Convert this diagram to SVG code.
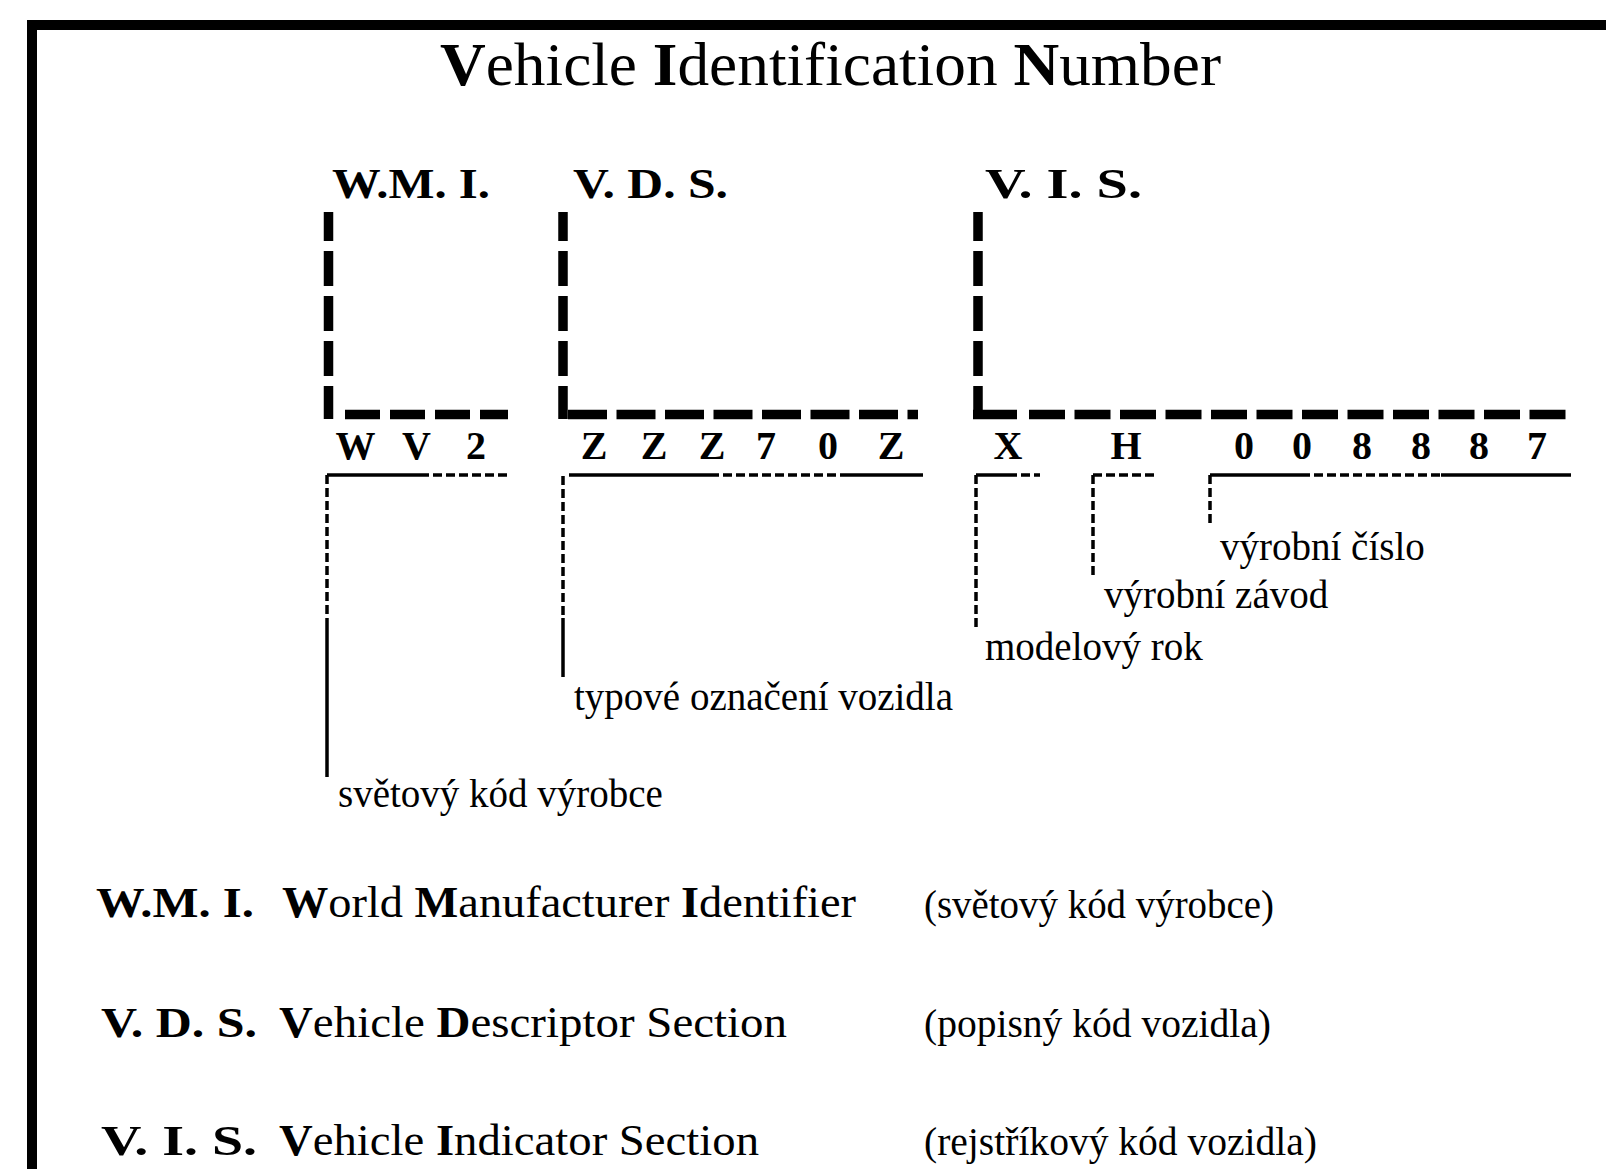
<svg xmlns="http://www.w3.org/2000/svg" width="1606" height="1169" viewBox="0 0 1606 1169">
<style>
text{font-family:"Liberation Serif","Times New Roman",serif;fill:#000}
.b{font-weight:bold}
.title{font-size:61px}
.hdr{font-size:42px;font-weight:bold}
.ch{font-size:40px;font-weight:bold;text-anchor:middle}
.lbl{font-size:39px}
.leg{font-size:44px}
.legk{font-size:42px;font-weight:bold}
.thick{stroke:#000;stroke-width:9.5;fill:none}
.thin{stroke:#000;stroke-width:3.5;fill:none}
.td{stroke-dasharray:9 4}
</style>
<rect x="32" y="25" width="1620" height="1200" fill="none" stroke="#000" stroke-width="10"/>
<g id="title"><text class="title" x="440" y="85" textLength="781" lengthAdjust="spacingAndGlyphs"><tspan class="b">V</tspan>ehicle <tspan class="b">I</tspan>dentification <tspan class="b">N</tspan>umber</text></g>
<g id="wmi">
<text class="hdr" x="332" y="198" textLength="158" lengthAdjust="spacingAndGlyphs">W.M. I.</text>
<text class="ch" x="355.5" y="459">W</text><text class="ch" x="416.5" y="459">V</text><text class="ch" x="476" y="459">2</text>
</g>
<g id="vds">
<text class="hdr" x="573" y="198" textLength="155" lengthAdjust="spacingAndGlyphs">V. D. S.</text>
<text class="ch" x="594" y="459">Z</text><text class="ch" x="654" y="459">Z</text><text class="ch" x="712" y="459">Z</text><text class="ch" x="766" y="459">7</text><text class="ch" x="828" y="459">0</text><text class="ch" x="891" y="459">Z</text>
</g>
<g id="vis">
<text class="hdr" x="985" y="198" textLength="157" lengthAdjust="spacingAndGlyphs">V. I. S.</text>
<text class="ch" x="1008" y="459">X</text><text class="ch" x="1126" y="459">H</text><text class="ch" x="1244" y="459">0</text><text class="ch" x="1302" y="459">0</text><text class="ch" x="1362" y="459">8</text><text class="ch" x="1421" y="459">8</text><text class="ch" x="1479" y="459">8</text><text class="ch" x="1537" y="459">7</text>
</g>
<g id="lbl-svetovy"><text class="lbl" x="338" y="807">světový kód výrobce</text></g>
<g id="lbl-typove"><text class="lbl" x="574" y="710">typové označení vozidla</text></g>
<g id="lbl-cislo"><text class="lbl" x="1220" y="560">výrobní číslo</text></g>
<g id="lbl-zavod"><text class="lbl" x="1104" y="608">výrobní závod</text></g>
<g id="lbl-rok"><text class="lbl" x="985" y="660">modelový rok</text></g>
<g id="legend-wmi">
<text class="legk" x="96" y="917" textLength="158" lengthAdjust="spacingAndGlyphs">W.M. I.</text>
<text class="leg" x="282" y="917" textLength="574" lengthAdjust="spacingAndGlyphs"><tspan class="b">W</tspan>orld <tspan class="b">M</tspan>anufacturer <tspan class="b">I</tspan>dentifier</text>
<text class="lbl" x="924" y="918" textLength="350" lengthAdjust="spacingAndGlyphs">(světový kód výrobce)</text>
</g>
<g id="legend-vds">
<text class="legk" x="101" y="1037" textLength="156" lengthAdjust="spacingAndGlyphs">V. D. S.</text>
<text class="leg" x="279" y="1037" textLength="508" lengthAdjust="spacingAndGlyphs"><tspan class="b">V</tspan>ehicle <tspan class="b">D</tspan>escriptor Section</text>
<text class="lbl" x="924" y="1037" textLength="347" lengthAdjust="spacingAndGlyphs">(popisný kód vozidla)</text>
</g>
<g id="legend-vis">
<text class="legk" x="101" y="1155" textLength="156" lengthAdjust="spacingAndGlyphs">V. I. S.</text>
<text class="leg" x="279" y="1155" textLength="480" lengthAdjust="spacingAndGlyphs"><tspan class="b">V</tspan>ehicle <tspan class="b">I</tspan>ndicator Section</text>
<text class="lbl" x="924" y="1155" textLength="393" lengthAdjust="spacingAndGlyphs">(rejstříkový kód vozidla)</text>
</g>
<g id="connectors">
<line class="thick" x1="328.5" y1="212" x2="328.5" y2="419" stroke-dasharray="35 10" stroke-dashoffset="6"/>
<line class="thick" x1="345" y1="414.5" x2="508" y2="414.5" stroke-dasharray="35 10"/>
<line class="thick" x1="563" y1="212" x2="563" y2="419" stroke-dasharray="35 10" stroke-dashoffset="6"/>
<line class="thick" x1="568" y1="414.5" x2="918" y2="414.5" stroke-dasharray="39 9.5"/>
<line class="thick" x1="978" y1="212" x2="978" y2="419" stroke-dasharray="35 10" stroke-dashoffset="6"/>
<line class="thick" x1="973" y1="414.5" x2="1017" y2="414.5"/>
<line class="thick" x1="1029" y1="414.5" x2="1566" y2="414.5" stroke-dasharray="36 9.5"/>
<line class="thin" x1="327" y1="475" x2="420" y2="475"/>
<line class="thin td" x1="420" y1="475" x2="510" y2="475"/>
<line class="thin td" x1="327" y1="475" x2="327" y2="618"/>
<line class="thin" x1="327" y1="618" x2="327" y2="777"/>
<line class="thin" x1="569" y1="475" x2="710" y2="475"/>
<line class="thin td" x1="710" y1="475" x2="847" y2="475"/>
<line class="thin" x1="847" y1="475" x2="923" y2="475"/>
<line class="thin td" x1="563" y1="476" x2="563" y2="618"/>
<line class="thin" x1="563" y1="618" x2="563" y2="677"/>
<line class="thin" x1="976" y1="475" x2="1008" y2="475"/>
<line class="thin td" x1="1008" y1="475" x2="1040" y2="475"/>
<line class="thin td" x1="976" y1="475" x2="976" y2="627"/>
<line class="thin td" x1="1093" y1="475" x2="1155" y2="475"/>
<line class="thin td" x1="1093" y1="475" x2="1093" y2="577"/>
<line class="thin" x1="1210" y1="475" x2="1301" y2="475"/>
<line class="thin td" x1="1301" y1="475" x2="1441" y2="475"/>
<line class="thin" x1="1441" y1="475" x2="1571" y2="475"/>
<line class="thin td" x1="1210" y1="475" x2="1210" y2="525"/>
</g>
</svg>
